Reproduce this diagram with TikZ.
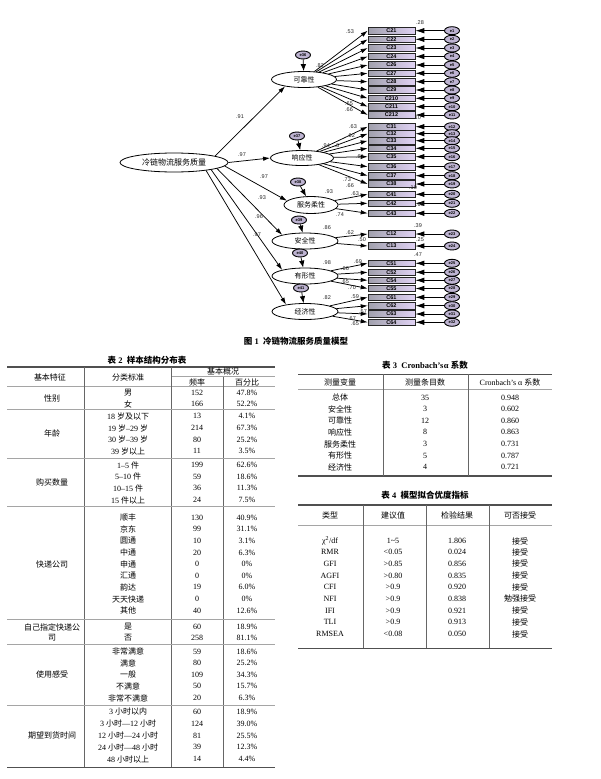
\documentclass[tikz,border=0pt]{standalone}
\usepackage{fontspec}
\setmainfont{Liberation Serif}
\setsansfont{Liberation Sans}
\newfontfamily\cjk{Noto Sans CJK SC}
\usetikzlibrary{shapes.geometric,arrows.meta}
\newcommand\zh[1]{{\cjk #1}}
\definecolor{boxL}{RGB}{160,160,172}
\definecolor{boxR}{RGB}{224,210,244}
\definecolor{errfill}{RGB}{190,180,210}
\definecolor{rulec}{RGB}{80,80,80}
\definecolor{thinc}{RGB}{165,165,165}
\tikzset{
  lat/.style={ellipse, draw, line width=0.8pt, fill=white, inner sep=0pt, font=\cjk\fontsize{7}{7}\selectfont},
  obs/.style={rectangle, draw=black!85, line width=0.6pt, minimum width=47pt, minimum height=6.5pt, inner sep=0pt,
     left color=boxL, right color=boxR, font=\sffamily\bfseries\fontsize{5.5}{5.5}\selectfont},
  errc/.style={ellipse, draw, line width=0.9pt, fill=errfill, minimum width=15pt, minimum height=8pt, inner sep=0pt,
     font=\sffamily\bfseries\fontsize{4}{4}\selectfont},
  arr/.style={-{Latex[length=7pt,width=4.5pt]}, line width=0.75pt},
  earr/.style={-{Latex[length=9pt,width=5.5pt]}, line width=0.9pt},
  coef/.style={font=\sffamily\fontsize{5.5}{5.5}\selectfont, text=black!85, inner sep=0pt},
  cell/.style={font=\fontsize{8}{8}\selectfont, inner sep=0pt},
  ttl/.style={font=\bfseries\fontsize{8.5}{8.5}\selectfont, inner sep=0pt},
  thick rule/.style={draw=rulec, line width=1.2pt},
  thin rule/.style={draw=thinc, line width=0.5pt},
  vrule/.style={draw=black!60, line width=0.4pt},
}
\begin{document}
\begin{tikzpicture}[x=1pt,y=-1pt]
\useasboundingbox[fill=white] (0,0) rectangle (600,779);

% ---------- SEM diagram ----------
\node[lat, minimum width=108pt, minimum height=19pt, font=\cjk\fontsize{8}{8}\selectfont] (M) at (174,162.5) {冷链物流服务质量};
\node[lat, minimum width=65pt, minimum height=16pt] (L1) at (304,79.5) {可靠性};
\node[lat, minimum width=63pt, minimum height=15pt] (L2) at (302,158) {响应性};
\node[lat, minimum width=54pt, minimum height=17pt] (L3) at (311,205) {服务柔性};
\node[lat, minimum width=66pt, minimum height=16pt] (L4) at (305,241) {安全性};
\node[lat, minimum width=66pt, minimum height=16pt] (L5) at (305,276) {有形性};
\node[lat, minimum width=66pt, minimum height=16pt] (L6) at (305,311.5) {经济性};

\foreach \zx/\zy/\k [count=\i] in {303/55/36, 297/136/37, 298/182/38, 299/220/39, 300/253/40, 301/288/41}{
  \node[errc] (z\i) at (\zx,\zy) {e\k};
  \draw[arr, -{Latex[length=7pt,width=5.5pt]}] (z\i) -- (L\i);
}

\draw[arr] (M.9) -- (L1.200);
\draw[arr] (M.east) -- (L2.west);
\draw[arr] (M.-4) -- (L3.170);
\draw[arr] (M.-8) -- (L4.165);
\draw[arr] (M.-11) -- (L5.165);
\draw[arr] (M.-14) -- (L6.160);

\foreach \g/\y/\lab [count=\i] in {
 1/30.7/C21, 1/39.3/C22, 1/48/C23, 1/56.5/C24, 1/65/C26, 1/73.3/C27, 1/81.7/C28, 1/90/C29, 1/98.3/C210, 1/106.7/C211, 1/115/C212,
 2/126.7/C31, 2/133.7/C32, 2/140.7/C33, 2/148.3/C34, 2/156.7/C35, 2/166.7/C36, 2/175.7/C37, 2/184/C38,
 3/194.3/C41, 3/203.3/C42, 3/213.3/C43,
 4/234/C12, 4/246/C13,
 5/263.3/C51, 5/272.3/C52, 5/280.3/C54, 5/288.5/C55,
 6/297.3/C61, 6/305.7/C62, 6/314/C63, 6/322.3/C64}{
  \node[obs] (b\i) at (391.5,\y) {\lab};
  \node[errc] (e\i) at (452,\y) {e\i};
  \draw[earr] (e\i) -- (b\i);
  \draw[arr] (L\g) -- (b\i.west);
}

% coefficients
\foreach \cx/\cy/\t [count=\i] in {
 240/117/.91, 242/155/.97, 264/177/.97, 262/198/.93, 259/217/.96, 257/235/.97,
 320/66/.82, 326/146/.94, 337/146/.6, 329/192/.93, 327/228/.86, 327/263/.98, 327/298/.82,
 350/32/.53, 420/23/.28, 349/104/.65, 349/110/.66, 417/118/.10,
 353/127/.63, 351/136/.62, 360/157/.61, 347/180/.73, 350/186/.66, 413/188/.10,
 355/194/.63, 340/215/.74, 420/205/.65,
 350/233/.62, 362/240/.50, 418/226/.39, 420/240/.25,
 358/262/.69, 418/255/.47, 345/269/.66, 345/282/.65, 352/288/.70,
 355/297/.59, 363/312/.57, 352/319/.67, 355/324/.65}{
  \node[coef] (c\i) at (\cx,\cy) {\t};
}

\node[ttl] (cap1) at (296,341) {\zh{图} 1\ \ \zh{冷链物流服务质量模型}};

% ---------- Table 2 ----------
\node[ttl] (t2t) at (147,360) {\zh{表} 2\ \ \zh{样本结构分布表}};
\draw[thick rule] (7,367) -- (275,367);
\draw[thin rule] (171,376.7) -- (275,376.7);
\draw[thin rule] (7,386) -- (275,386);
\draw[vrule] (84,367) -- (84,767);
\draw[vrule] (171,367) -- (171,767);
\draw[vrule] (223,376.7) -- (223,767);
\node[cell] (h21) at (50,377) {\zh{基本特征}};
\node[cell] (h22) at (128,377) {\zh{分类标准}};
\node[cell] (h23) at (223,371.5) {\zh{基本概况}};
\node[cell] (h24) at (197,382.5) {\zh{频率}};
\node[cell] (h25) at (247,382.5) {\zh{百分比}};
\foreach \y in {409.3, 458.3, 506.7, 619, 644, 705}{
  \draw[thin rule] (7,\y) -- (275,\y);
}
\draw[thick rule] (7,767.3) -- (275,767.3);
\foreach \y/\a/\f/\p [count=\i] in {
 392.7/\zh{男}/152/47.8\%, 404/\zh{女}/166/52.2\%,
 416/18 \zh{岁及以下}/13/4.1\%, 428/19 \zh{岁}--29 \zh{岁}/214/67.3\%, 439.7/30 \zh{岁}--39 \zh{岁}/80/25.2\%, 451/39 \zh{岁以上}/11/3.5\%,
 465/1--5 \zh{件}/199/62.6\%, 476.7/5--10 \zh{件}/59/18.6\%, 488.3/10--15 \zh{件}/36/11.3\%, 500/15 \zh{件以上}/24/7.5\%,
 517.5/\zh{顺丰}/130/40.9\%, 529.3/\zh{京东}/99/31.1\%, 541/\zh{圆通}/10/3.1\%, 552.5/\zh{中通}/20/6.3\%,
 564/\zh{申通}/0/0\%, 575.7/\zh{汇通}/0/0\%, 587.3/\zh{韵达}/19/6.0\%, 599/\zh{天天快递}/0/0\%, 610.5/\zh{其他}/40/12.6\%,
 627/\zh{是}/60/18.9\%, 637.7/\zh{否}/258/81.1\%,
 651.7/\zh{非常满意}/59/18.6\%, 663.3/\zh{满意}/80/25.2\%, 674.5/\zh{一般}/109/34.3\%, 686/\zh{不满意}/50/15.7\%, 698/\zh{非常不满意}/20/6.3\%,
 711.7/3 \zh{小时以内}/60/18.9\%, 723.5/3 \zh{小时}---12 \zh{小时}/124/39.0\%, 735.5/12 \zh{小时}---24 \zh{小时}/81/25.5\%,
 747.3/24 \zh{小时}---48 \zh{小时}/39/12.3\%, 759.3/48 \zh{小时以上}/14/4.4\%}{
  \node[cell] (r2a\i) at (128,\y) {\a};
  \node[cell] (r2f\i) at (197,\y) {\f};
  \node[cell] (r2p\i) at (247,\y) {\p};
}
\foreach \y/\g [count=\i] in {398/性别, 433.7/年龄, 482/购买数量, 564/快递公司, 627/自己指定快递公, 637.7/司, 674.5/使用感受, 735.5/期望到货时间}{
  \node[cell] (g2\i) at (52,\y) {\zh{\g}};
}

% ---------- Table 3 ----------
\node[ttl] (t3t) at (425,365) {\zh{表} 3\ \ Cronbach's\kern0.5pt α \zh{系数}};
\draw[thick rule] (298,374.3) -- (552,374.3);
\draw[thin rule] (298,389.3) -- (552,389.3);
\draw[thick rule] (298,476) -- (552,476);
\draw[vrule] (383.3,374.3) -- (383.3,476);
\draw[vrule] (468.3,374.3) -- (468.3,476);
\node[cell] (h31) at (340,382) {\zh{测量变量}};
\node[cell] (h32) at (425,382) {\zh{测量条目数}};
\node[cell] (h33) at (510,382) {Cronbach's α \zh{系数}};
\foreach \y/\a/\b/\c [count=\i] in {397.7/总体/35/0.948, 409.3/安全性/3/0.602, 420.7/可靠性/12/0.860, 432.3/响应性/8/0.863,
  444/服务柔性/3/0.731, 455.7/有形性/5/0.787, 467.3/经济性/4/0.721}{
  \node[cell] (r3a\i) at (340,\y) {\zh{\a}};
  \node[cell] (r3b\i) at (425,\y) {\b};
  \node[cell] (r3c\i) at (510,\y) {\c};
}

% ---------- Table 4 ----------
\node[ttl] (t4t) at (425,495) {\zh{表} 4\ \ \zh{模型拟合优度指标}};
\draw[thick rule] (298,505) -- (552,505);
\draw[thin rule] (298,525.7) -- (552,525.7);
\draw[thick rule] (298,648.3) -- (552,648.3);
\draw[vrule] (362.7,505) -- (362.7,648.3);
\draw[vrule] (425.7,505) -- (425.7,648.3);
\draw[vrule] (489.3,505) -- (489.3,648.3);
\node[cell] (h41) at (330,515) {\zh{类型}};
\node[cell] (h42) at (393,515) {\zh{建议值}};
\node[cell] (h43) at (457,515) {\zh{检验结果}};
\node[cell] (h44) at (520,515) {\zh{可否接受}};
\foreach \y/\a/\b/\c/\d [count=\i] in {
 541/{χ\textsuperscript{2}/df}/1\textasciitilde 5/1.806/接受,
 552.3/RMR/{<}0.05/0.024/接受,
 563.8/GFI/{>}0.85/0.856/接受,
 575.5/AGFI/{>}0.80/0.835/接受,
 587.2/CFI/{>}0.9/0.920/接受,
 598.9/NFI/{>}0.9/0.838/勉强接受,
 610.6/IFI/{>}0.9/0.921/接受,
 622.3/TLI/{>}0.9/0.913/接受,
 634/RMSEA/{<}0.08/0.050/接受}{
  \node[cell] (r4a\i) at (330,\y) {\a};
  \node[cell] (r4b\i) at (393,\y) {\b};
  \node[cell] (r4c\i) at (457,\y) {\c};
  \node[cell] (r4d\i) at (520,\y) {\zh{\d}};
}
\end{tikzpicture}
\end{document}
